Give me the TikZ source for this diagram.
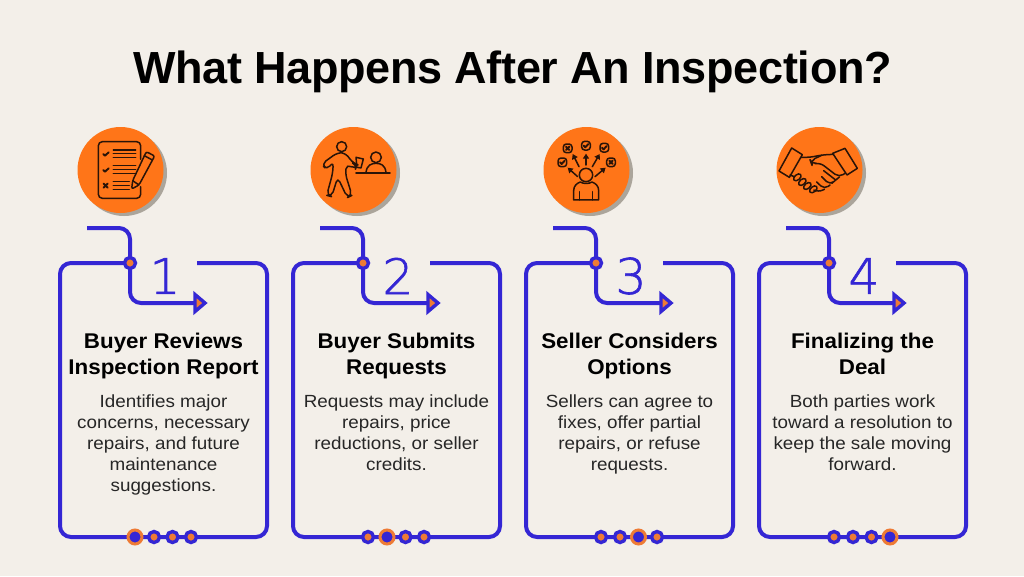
\documentclass[tikz,border=0pt]{standalone}
\usepackage{fontspec}
\setmainfont{Liberation Sans}
\newfontfamily\numfont[FakeBold=1.2]{DejaVu Sans ExtraLight}
\newfontfamily\titlefont[LetterSpace=-0.7]{Liberation Sans Bold}
\newfontfamily\headfont[FakeStretch=1.05]{Liberation Sans Bold}
\newfontfamily\bodyfont[FakeStretch=1.07]{Liberation Sans}
\usetikzlibrary{calc,arrows.meta}
\definecolor{bgc}{HTML}{F3EFE9}
\definecolor{blu}{HTML}{3426D4}
\definecolor{org}{HTML}{FF7518}
\definecolor{dot}{HTML}{EE7B35}
\definecolor{shad}{HTML}{ABA59B}
\definecolor{ink}{HTML}{2A1408}
\tikzset{
 track/.style={draw=blu,line width=4pt,rounded corners=11pt},
 hubdot/.style={circle,draw=blu,line width=3.4pt,fill=dot,minimum size=11pt,inner sep=0pt},
 activedot/.style={circle,draw=dot,line width=3pt,fill=blu,minimum size=14pt,inner sep=0pt},
 disc/.style={circle,fill=org,minimum size=86pt,inner sep=0pt},
 discshadow/.style={circle,fill=shad,minimum size=86pt,inner sep=0pt},
 headtxt/.style={font=\headfont\fontsize{21.3}{26}\selectfont,align=center,text=black,inner sep=0pt,anchor=north},
 bodytxt/.style={font=\bodyfont\fontsize{17.6}{20.8}\selectfont,align=center,text=black!85,inner sep=0pt,anchor=north},
 numtxt/.style={font=\numfont\fontsize{49}{49}\selectfont,text=blu},
 ic/.style={draw=ink,line width=1.5pt,line join=round,line cap=round},
 thick ic/.style={ic,line width=1.9pt},
}
\newcommand{\cardblock}[6]{% #1 prefix, #2 dx, #3 number, #4 heading, #5 body, #6 active index
 \begin{scope}[shift={(#2,0)}]
  \coordinate (#1start) at (87,228);
  \coordinate (#1lead) at (197,263);
  \coordinate (#1arrow) at (195,303);
  \node[discshadow] (#1shadow) at (124,173) {};
  \node[disc] (#1disc) at (120.5,170) {};
  \draw[track] (#1start) -- (130,228) -- (130,303) -- (#1arrow);
  \draw[track] (130,263) -- (60,263) -- (60,537) -- (267,537) -- (267,263) -- (#1lead);
  \filldraw[fill=dot,draw=blu,line width=3.4pt,line join=miter] (195,294.5) -- (205,303) -- (195,311.5) -- cycle;
  \node[hubdot] (#1hub) at (130,263) {};
  \node[numtxt] (#1num) at (165,276) {#3};
  \node[headtxt] (#1head) at (163.5,332.7) {\rule{0pt}{15pt}#4};
  \node[bodytxt] (#1body) at (163.5,393.7) {\rule{0pt}{14pt}#5};
  \foreach \i/\xx in {1/135,2/154,3/172.5,4/191}{
    \ifnum\i=#6\relax
      \node[activedot] (#1d\i) at (\xx,537) {};
    \else
      \node[hubdot] (#1d\i) at (\xx,537) {};
    \fi
  }
 \end{scope}}
\begin{document}
\begin{tikzpicture}[x=1pt,y=-1pt]
\useasboundingbox (0,0) rectangle (1024,576);
\fill[bgc] (0,0) rectangle (1024,576);
\node[font=\titlefont\fontsize{45}{50}\selectfont,text=black,anchor=base,inner sep=0pt] (title) at (512.5,83.3) {What Happens After An Inspection?};
\cardblock{a}{0}{1}{Buyer Reviews\\Inspection Report}{Identifies major\\concerns, necessary\\repairs, and future\\maintenance\\suggestions.}{1}
\cardblock{b}{233}{2}{Buyer Submits\\Requests}{Requests may include\\repairs, price\\reductions, or seller\\credits.}{2}
\cardblock{c}{466}{3}{Seller Considers\\Options}{Sellers can agree to\\fixes, offer partial\\repairs, or refuse\\requests.}{3}
\cardblock{d}{699}{4}{Finalizing the\\Deal}{Both parties work\\toward a resolution to\\keep the sale moving\\forward.}{4}
% icon 1
\begin{scope}[shift={(70,120)},x=0.3333pt,y=-0.3333pt]
 \draw[ic,rounded corners=4pt] (212,118) -- (212,65) -- (85,65) -- (85,235) -- (212,235) -- (212,200);
 \foreach \y in {90,101,112,137,148,160}{\draw[ic] (130,\y) -- (197,\y);}
 \foreach \y in {185,197,208}{\draw[ic] (130,\y) -- (178,\y);}
 \foreach \y in {102,150}{\draw[thick ic] (100,\y) -- (105,\y+5) -- (116,\y-5);}
 \draw[thick ic] (101,191) -- (113,203) (113,191) -- (101,203);
 \draw[ic,rounded corners=2pt] (185,207) -- (188,182) -- (229,95) -- (254,108) -- (207,195) -- cycle;
 \draw[ic] (188,182) -- (207,195) (223,107) -- (247,120);
\end{scope}
% icon 2
\begin{scope}[shift={(300,120)},x=0.3333pt,y=-0.3333pt]
 \draw[ic] (125,80) circle (15);
 \draw[ic,rounded corners=5pt] (112,98) -- (135,98) -- (160,130) -- (172,134) -- (166,148) -- (140,132) -- (136,162) -- (156,226) -- (142,233) -- (113,172) -- (95,230) -- (80,226) -- (98,160) -- (100,125) -- (80,150) -- (65,132) -- cycle;
 \draw[ic] (170,133) -- (168,112) -- (190,117) -- (183,144) -- (172,142);
 \draw[ic] (228,112) circle (16);
 \draw[ic] (198,158) .. controls (200,135) and (215,130) .. (228,130) .. controls (242,130) and (256,135) .. (258,158);
 \draw[thick ic] (168,159) -- (270,159);
\end{scope}
% icon 3
\begin{scope}[shift={(535,120)},x=0.3333pt,y=-0.3333pt]
 \foreach \x/\y in {153/77,208/83,82/127}{
  \draw[ic,rounded corners=3pt] (\x-13,\y-13) rectangle (\x+13,\y+13);
  \draw[thick ic] (\x-7,\y) -- (\x-2,\y+5) -- (\x+7,\y-5);}
 \foreach \x/\y in {98/85,228/127}{
  \draw[ic,rounded corners=3pt] (\x-13,\y-13) rectangle (\x+13,\y+13);
  \draw[thick ic] (\x-5,\y-5) -- (\x+5,\y+5) (\x+5,\y-5) -- (\x-5,\y+5);}
 \foreach \xa/\ya/\xb/\yb in {153/135/153/101,132/140/113/102,172/140/194/102,128/170/98/143,180/170/212/143}{
  \draw[ic,-{Triangle[length=5pt,width=6pt]}] (\xa,\ya) -- (\xb,\yb);}
 \draw[ic] (153,165) circle (20);
 \draw[ic] (116,240) -- (116,212) .. controls (116,198) and (125,190) .. (136,186) .. controls (145,192) and (162,192) .. (171,186) .. controls (182,190) and (191,198) .. (191,212) -- (191,240) -- cycle;
 \draw[ic] (134,215) -- (134,240) (173,215) -- (173,240);
\end{scope}
% icon 4
\begin{scope}[shift={(765,120)},x=0.3333pt,y=-0.3333pt]
 \draw[ic] (42,153) -- (80,84) -- (112,104) -- (73,172) -- cycle;
 \draw[ic] (203,100) -- (240,85) -- (277,145) -- (246,165) -- cycle;
 \draw[ic,rounded corners=4pt] (108,112) -- (135,112) -- (170,105) -- (205,103);
 \draw[ic,rounded corners=5pt] (240,160) -- (222,172) -- (165,128) -- (140,133) -- (136,122) -- (170,106);
 \draw[ic] (75,165) -- (88,170);
 \draw[ic,rounded corners=5pt] (212,180) -- (176,152) (222,172) -- (212,180) -- (195,195) -- (170,170) (195,195) -- (178,208) -- (155,186) (178,208) -- (160,217) -- (150,212);
 \foreach \x/\y in {97/172,112/186,127/198,145/208}{
  \draw[ic,rotate around={40:(\x,\y)}] (\x,\y) ellipse (13 and 8);}
\end{scope}
\end{tikzpicture}
\end{document}
